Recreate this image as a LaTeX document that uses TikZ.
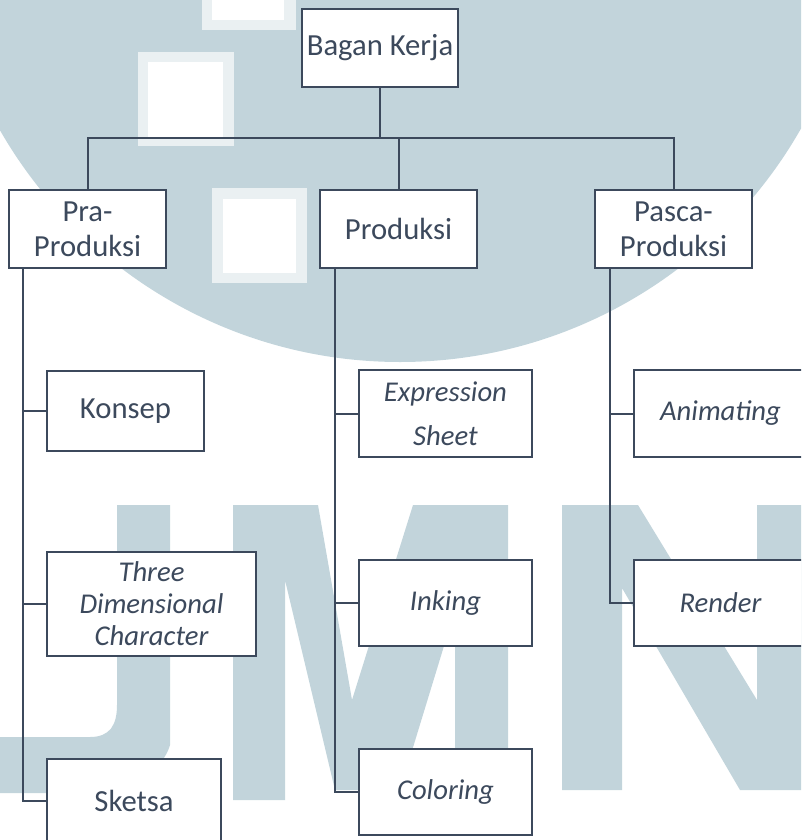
\documentclass[tikz,border=0pt]{standalone}
\usepackage{fontspec}
\setmainfont{Carlito}
\definecolor{ink}{RGB}{60,73,92}
\definecolor{wm}{RGB}{194,212,219}
\begin{document}
\begin{tikzpicture}[x=0.75pt, y=-0.75pt,
    box/.style 2 args={rectangle, draw=ink, line width=1.5pt, fill=white, inner sep=0pt, align=center, text=ink,
        minimum width=#1*0.75pt, minimum height=#2*0.75pt},
    up/.style={font=\fontsize{23}{26}\selectfont},
    it/.style={font=\fontsize{21.5}{24}\selectfont\itshape},
    link/.style={draw=ink, line width=1.5pt},
    halo/.style={fill=wm!35!white}
]
    \useasboundingbox (0,0) rectangle (801,840);
    \clip (0,0) rectangle (801,840);
    % watermark
    \fill[wm] (400,-99) circle[radius=345.75pt];
    \fill[halo] (202,0) rectangle (296,30);
    \fill[white] (212,0) rectangle (284,20);
    \fill[halo] (138,52) rectangle (234,146);
    \fill[white] (148,62) rectangle (223,137);
    \fill[halo] (212,188) rectangle (307,283);
    \fill[white] (223,199) rectangle (296,273);
    \fill[wm] (117,505) -- (170,505) -- (170,745) .. controls (160,780) and (110,793) .. (60,793)
        -- (0,793) -- (0,737) -- (90,737) .. controls (110,737) and (117,725) .. (117,705) -- cycle;
    \fill[wm] (233,505) -- (318,505) -- (352,700) -- (413,505) -- (508,505) -- (508,750) -- (455,750)
        -- (455,610) -- (400,790) -- (335,790) -- (285,580) -- (285,800) -- (233,800) -- cycle;
    \fill[wm] (562,505) -- (638,505) -- (757,700) -- (757,505) -- (801,505) -- (801,790) -- (740,790)
        -- (622,588) -- (622,790) -- (562,790) -- cycle;

    \node[box={156}{78}, up] (kerja) at (380,48) {Bagan Kerja};
    \node[box={157}{78}, up] (pra) at (87.5,229) {Pra-\\Produksi};
    \node[box={157}{78}, up] (prod) at (398.5,229) {Produksi};
    \node[box={157}{78}, up] (pasca) at (673.5,229) {Pasca-\\Produksi};

    \node[box={157}{80}, up] (konsep) at (125.5,411) {Konsep};
    \node[box={209}{104}, it] (tiga) at (151.5,604) {Three\\Dimensional\\Character};
    \node[box={174}{84}, up] (sketsa) at (134,801) {Sketsa};
    \node[box={173}{87}, it, font=\fontsize{21.5}{33}\selectfont\itshape] (ekspresi) at (445.5,413.5) {Expression\\Sheet};
    \node[box={173}{86}, it] (inking) at (445.5,603) {Inking};
    \node[box={173}{86}, it] (coloring) at (445.5,792) {Coloring};
    \node[box={173}{87}, it] (animating) at (720.5,413.5) {Animating};
    \node[box={173}{86}, it] (render) at (720.5,603) {Render};

    \coordinate (bus) at (0,138);
    \draw[link] (kerja.south) -- (kerja.south |- bus);
    \draw[link] (pra.north) -- (pra.north |- bus) -- (pasca.north |- bus) -- (pasca.north);
    \draw[link] (prod.north) -- (prod.north |- bus);

    \coordinate (praT) at ([xshift=11.25pt]pra.south west);
    \coordinate (prodT) at ([xshift=12pt]prod.south west);
    \coordinate (pascaT) at ([xshift=12pt]pasca.south west);
    \draw[link] (praT) |- (sketsa.west);
    \draw[link] (praT |- konsep.west) -- (konsep.west);
    \draw[link] (praT |- tiga.west) -- (tiga.west);
    \draw[link] (prodT) |- (coloring.west);
    \draw[link] (prodT |- ekspresi.west) -- (ekspresi.west);
    \draw[link] (prodT |- inking.west) -- (inking.west);
    \draw[link] (pascaT) |- (render.west);
    \draw[link] (pascaT |- animating.west) -- (animating.west);
\end{tikzpicture}
\end{document}
